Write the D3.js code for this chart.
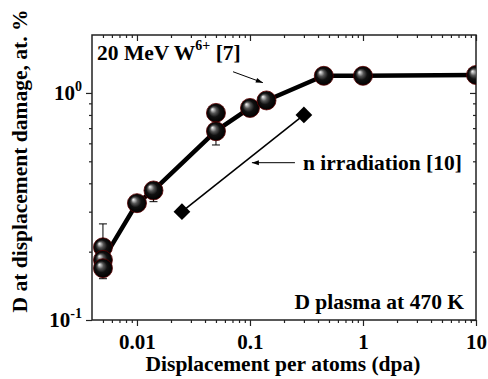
<!DOCTYPE html>
<html><head><meta charset="utf-8">
<script src="https://cdn.jsdelivr.net/npm/d3@7"></script>
<style>
html,body{margin:0;padding:0;background:#fff;}
svg{display:block;}
text{font-family:"Liberation Serif","Times New Roman",serif;font-weight:bold;fill:#000;}
</style></head>
<body>
<svg id="chart" width="488" height="379"></svg>
<script>
// ---- data ----
const dpa      = [0.005, 0.005, 0.005, 0.01, 0.014, 0.05, 0.05, 0.1, 0.14, 0.45, 1, 10];
const dConc    = [0.209, 0.184, 0.169, 0.327, 0.372, 0.817, 0.678, 0.859, 0.927, 1.19, 1.19, 1.2];
const errUp    = [0.056, 0.01, 0.01, 0.01, 0.02, 0.03, 0.03, 0.05, 0.03, 0.03, 0.03, 0.03];
const errDown  = [0.02, 0.01, 0.017, 0.01, 0.04, 0.03, 0.088, 0.03, 0.045, 0.04, 0.04, 0.04];
const fitX     = [0.0052, 0.01, 0.014, 0.05, 0.1, 0.14, 0.45, 1, 10];
const fitY     = [0.19, 0.327, 0.372, 0.68, 0.86, 0.927, 1.19, 1.19, 1.2];
const nIrrX    = [0.025, 0.3];
const nIrrY    = [0.30, 0.80];
const xTickVals   = [0.01, 0.1, 1, 10];
const xTickLabels = ["0.01", "0.1", "1", "10"];
const yTickVals   = [0.1, 1];
const yTickExp    = ["-1", "0"];

// ---- layout ----
const svg = d3.select("#chart");
const L = 92, R = 476, T = 35, B = 320;
const x = d3.scaleLog().domain([0.004, 10]).range([L, R]);
const y = d3.scaleLog().domain([0.1, 1.8]).range([B, T]);
const FS = 21.5;

const xMinor = [];
[0.001, 0.01, 0.1, 1].forEach(d => { for (let k = 2; k <= 9; k++) { const v = d * k; if (v > 0.004 && v < 10) xMinor.push(v); } });
const yMinor = [];
[0.1, 1].forEach(d => { for (let k = 2; k <= 9; k++) { const v = d * k; if (v > 0.1 && v < 1.8) yMinor.push(v); } });

const defs = svg.append("defs");
const grad = defs.append("radialGradient").attr("id", "ball")
  .attr("cx", "0.5").attr("cy", "0.5").attr("r", "0.5")
  .attr("fx", "0.3").attr("fy", "0.3");
[[0, "#f8f8f8"], [0.12, "#c0c0c0"], [0.33, "#555"], [0.6, "#111"], [1, "#000"]]
  .forEach(([o, c]) => grad.append("stop").attr("offset", o).attr("stop-color", c));
defs.append("clipPath").attr("id", "clip").append("rect")
  .attr("x", L).attr("y", T).attr("width", R - L).attr("height", B - T);
defs.append("marker").attr("id", "arr").attr("viewBox", "0 0 10 10")
  .attr("refX", 10).attr("refY", 5).attr("markerWidth", 9).attr("markerHeight", 7)
  .attr("markerUnits", "userSpaceOnUse").attr("orient", "auto")
  .append("path").attr("d", "M0,1.5 L10,5 L0,8.5 Z").attr("fill", "#000");

// ---- axes ----
const gAx = svg.append("g");
const axisColor = "#222";
const bottom = gAx.append("g").attr("transform", `translate(0,${B})`)
  .call(d3.axisBottom(x).tickValues(xTickVals).tickFormat((d, i) => xTickLabels[i]).tickSize(6).tickPadding(8));
gAx.append("g").attr("transform", `translate(0,${B})`)
  .call(d3.axisBottom(x).tickValues(xMinor).tickFormat("").tickSize(3));
gAx.append("g").attr("transform", `translate(0,${T})`)
  .call(d3.axisBottom(x).tickValues(xTickVals).tickFormat("").tickSize(6));
gAx.append("g").attr("transform", `translate(0,${T})`)
  .call(d3.axisBottom(x).tickValues(xMinor).tickFormat("").tickSize(3));
gAx.append("g").attr("transform", `translate(${L},0)`)
  .call(d3.axisLeft(y).tickValues(yTickVals).tickFormat("").tickSize(6));
gAx.append("g").attr("transform", `translate(${L},0)`)
  .call(d3.axisLeft(y).tickValues(yMinor).tickFormat("").tickSize(3));
gAx.append("g").attr("transform", `translate(${R},0)`)
  .call(d3.axisLeft(y).tickValues(yTickVals).tickFormat("").tickSize(6));
gAx.append("g").attr("transform", `translate(${R},0)`)
  .call(d3.axisLeft(y).tickValues(yMinor).tickFormat("").tickSize(3));
gAx.selectAll(".domain").remove();
gAx.selectAll(".tick line").attr("stroke", axisColor).attr("stroke-width", 1.2);
bottom.selectAll(".tick text").attr("font-size", 21).attr("font-family", "Liberation Serif").attr("font-weight", "bold").attr("fill", "#000").attr("dy", "0.71em");
gAx.append("rect").attr("x", L).attr("y", T).attr("width", R - L).attr("height", B - T)
  .attr("fill", "none").attr("stroke", axisColor).attr("stroke-width", 1.5);

yTickVals.forEach((v, i) => {
  const t = svg.append("text").attr("x", L - 10).attr("y", y(v) + 7)
    .attr("text-anchor", "end").attr("font-size", 21);
  t.append("tspan").text("10");
  t.append("tspan").attr("font-size", 14).attr("dy", -9).text(yTickExp[i]);
});

// ---- axis titles ----
svg.append("text").attr("x", 283).attr("y", 371).attr("text-anchor", "middle")
  .attr("font-size", FS).text("Displacement per atoms (dpa)");
svg.append("text").attr("transform", `translate(27,${(5 + 317) / 2}) rotate(-90)`)
  .attr("text-anchor", "middle").attr("font-size", FS).text("D at displacement damage, at. %");

// ---- plot content ----
const plot = svg.append("g").attr("clip-path", "url(#clip)");
const line = d3.line().x(d => x(d[0])).y(d => y(d[1]));

const nData = nIrrX.map((v, i) => [v, nIrrY[i]]);
plot.append("path").attr("d", line(nData)).attr("fill", "none").attr("stroke", "#000").attr("stroke-width", 1.6);
plot.selectAll(".dia").data(nData).join("path")
  .attr("d", d3.symbol(d3.symbolSquare, 140)())
  .attr("transform", d => `translate(${x(d[0])},${y(d[1])}) rotate(45)`)
  .attr("fill", "#000");

const pts = dpa.map((v, i) => ({ x: v, y: dConc[i], up: errUp[i], dn: errDown[i] }));
const eb = plot.append("g").attr("stroke", "#000").attr("stroke-width", 1);
pts.forEach(p => {
  const cx = x(p.x), y1 = y(p.y + p.up), y2 = y(p.y - p.dn);
  eb.append("line").attr("x1", cx).attr("x2", cx).attr("y1", y1).attr("y2", y2);
  eb.append("line").attr("x1", cx - 4).attr("x2", cx + 4).attr("y1", y1).attr("y2", y1);
  eb.append("line").attr("x1", cx - 4).attr("x2", cx + 4).attr("y1", y2).attr("y2", y2);
});

plot.append("path").attr("d", line(fitX.map((v, i) => [v, fitY[i]])))
  .attr("fill", "none").attr("stroke", "#000").attr("stroke-width", 4.5).attr("stroke-linejoin", "round");

plot.selectAll(".ball").data(pts).join("circle")
  .attr("cx", d => x(d.x)).attr("cy", d => y(d.y)).attr("r", 9.5)
  .attr("fill", "url(#ball)").attr("stroke", "#5a0000").attr("stroke-width", 0.8);

// ---- annotations ----
svg.append("line").attr("x1", x(0.0708)).attr("y1", y(1.24)).attr("x2", x(0.130)).attr("y2", y(1.11))
  .attr("stroke", "#000").attr("stroke-width", 1).attr("marker-end", "url(#arr)");
svg.append("line").attr("x1", x(0.25)).attr("y1", y(0.493)).attr("x2", x(0.104)).attr("y2", y(0.493))
  .attr("stroke", "#000").attr("stroke-width", 1).attr("marker-end", "url(#arr)");

const t1 = svg.append("text").attr("x", 97).attr("y", 60).attr("font-size", FS);
t1.append("tspan").text("20 MeV W");
t1.append("tspan").attr("font-size", 14).attr("dy", -10).text("6+");
t1.append("tspan").attr("dy", 10).text(" [7]");

svg.append("text").attr("x", 303).attr("y", 170).attr("font-size", FS).text("n irradiation [10]");
svg.append("text").attr("x", 464).attr("y", 309).attr("text-anchor", "end").attr("font-size", FS).text("D plasma at 470 K");
</script>
</body></html>
